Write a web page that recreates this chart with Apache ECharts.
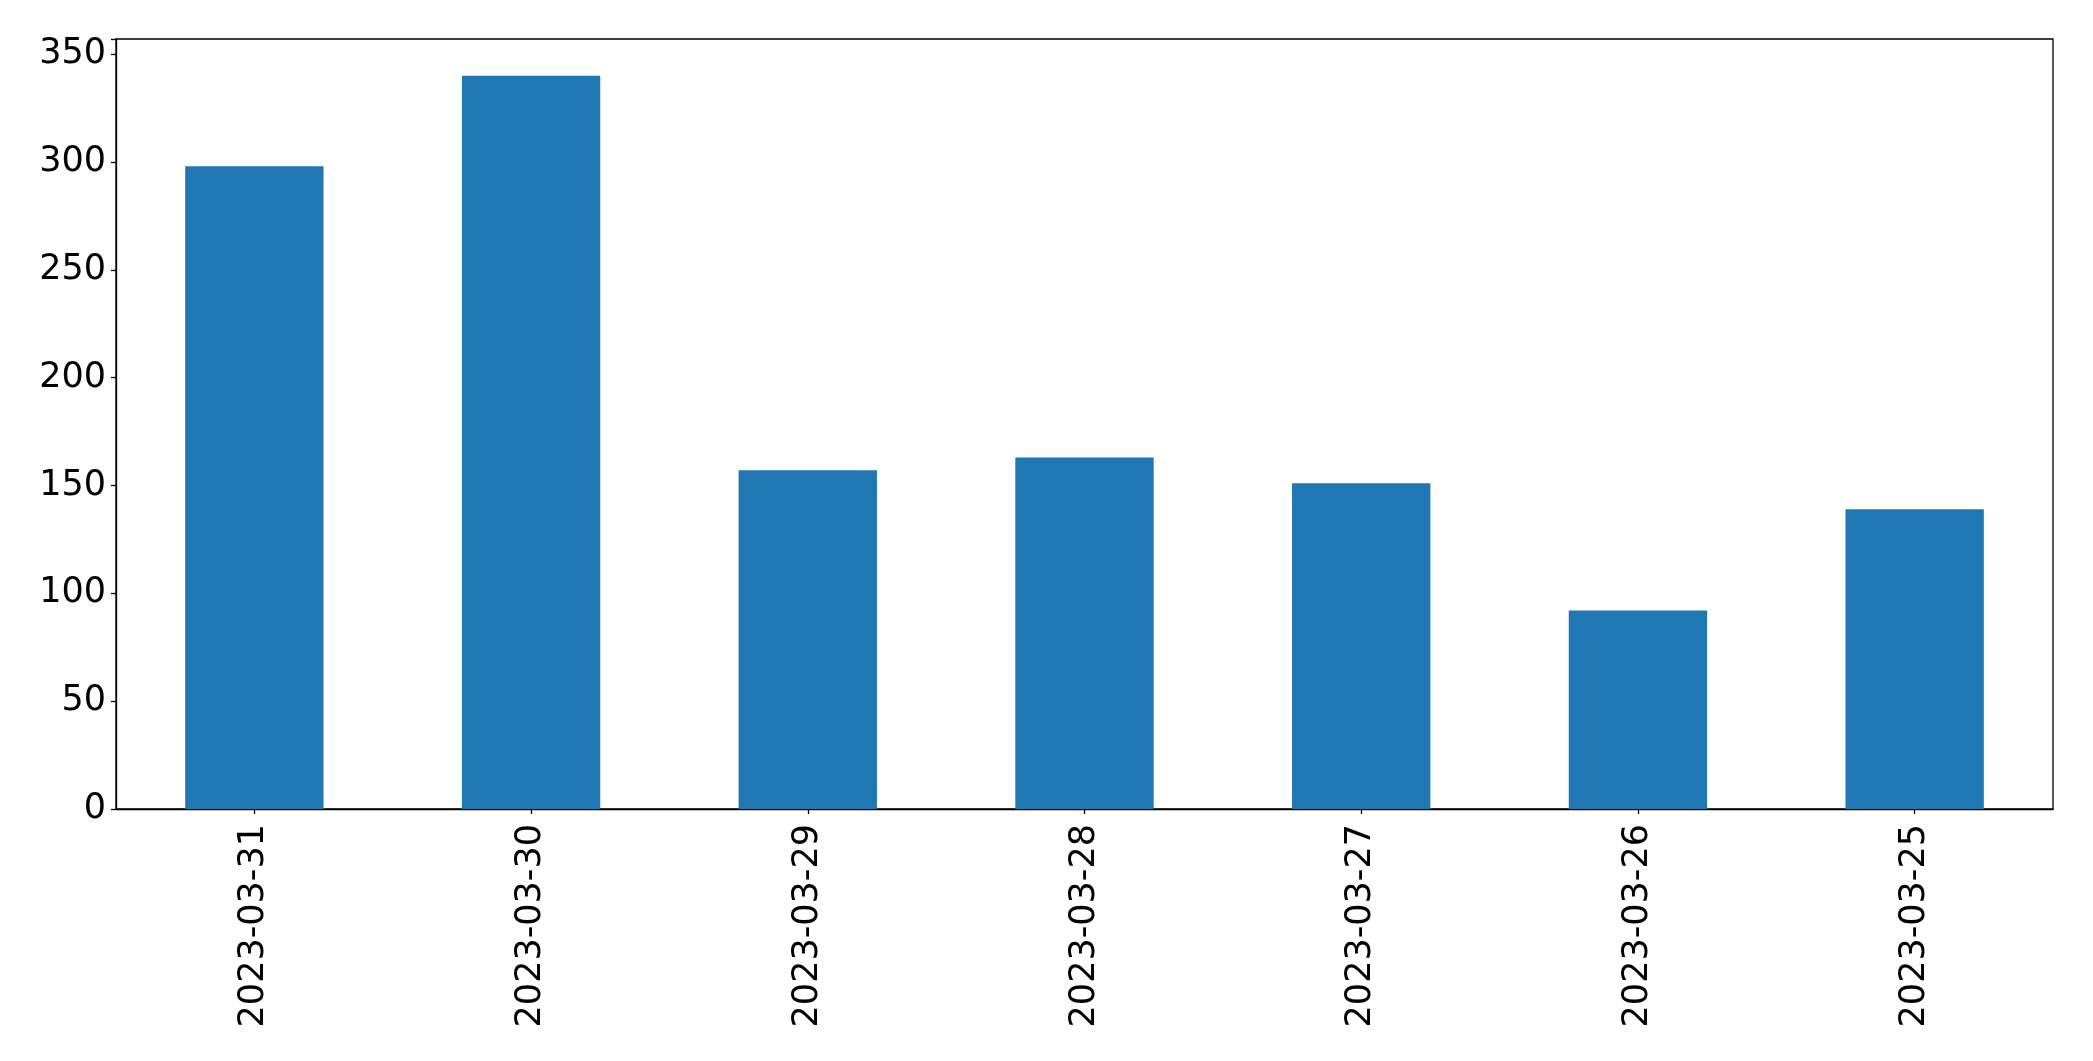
<!DOCTYPE html>
<html>
<head>
<meta charset="utf-8">
<script src="https://cdn.jsdelivr.net/npm/echarts@6/dist/echarts.min.js"></script>
<style>
html,body{margin:0;padding:0;background:#fff;}
#c{width:2093px;height:1061px;}
</style>
</head>
<body>
<div id="c"></div>
<script>
const categories = ['2023-03-31','2023-03-30','2023-03-29','2023-03-28','2023-03-27','2023-03-26','2023-03-25'];
const values = [298, 340, 157, 163, 151, 92, 139];
const yTicks = [0, 50, 100, 150, 200, 250, 300, 350];

const chart = echarts.init(document.getElementById('c'), null, {renderer: 'canvas'});
chart.setOption({
  animation: false,
  backgroundColor: '#fff',
  grid: {
    left: 116, right: 40, top: 39, bottom: 252,
    show: true, borderColor: '#000', borderWidth: 1.3,
    containLabel: false
  },
  xAxis: {
    type: 'category',
    data: categories,
    boundaryGap: true,
    axisLine: {show: true, lineStyle: {color: '#000', width: 1.3}},
    axisTick: {show: true, alignWithLabel: true, length: 5, lineStyle: {color: '#000', width: 1.3}},
    axisLabel: {
      rotate: 90, interval: 0, margin: 15,
      color: '#000', fontSize: 35, fontFamily: 'DejaVu Sans'
    },
    splitLine: {show: false}
  },
  yAxis: {
    type: 'value',
    min: 0, max: 357, interval: 50,
    axisLine: {show: true, lineStyle: {color: '#000', width: 1.3}},
    axisTick: {show: true, length: 5, lineStyle: {color: '#000', width: 1.3}},
    axisLabel: {
      margin: 10, color: '#000', fontSize: 35, fontFamily: 'DejaVu Sans',
      formatter: function (v) { return yTicks.indexOf(v) >= 0 ? String(v) : ''; }
    },
    splitLine: {show: false}
  },
  series: [{
    type: 'bar',
    data: values,
    barWidth: '50%',
    itemStyle: {color: '#1f77b4'}
  }]
});
</script>
</body>
</html>
